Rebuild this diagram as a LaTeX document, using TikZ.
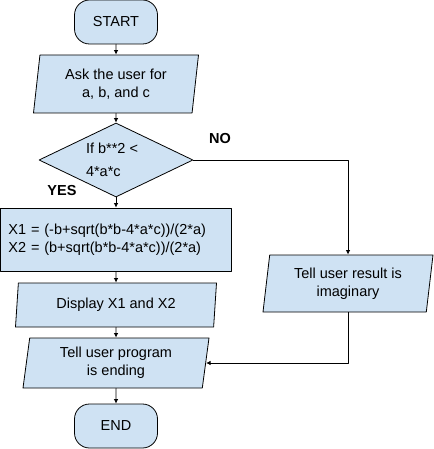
\documentclass[tikz,border=0pt]{standalone}
\usepackage{fontspec}
\setmainfont{Liberation Sans}
\usepackage{xcolor}
\usepackage{tikz}
\usetikzlibrary{shapes.geometric,arrows.meta}
\definecolor{boxfill}{HTML}{CFE2F3}
\definecolor{edge}{HTML}{000000}
\tikzset{
  FlowNode/.style={
    draw=edge, line width=0.8pt, fill=boxfill,
    inner sep=0pt, align=center,
    font=\fontsize{14.5}{18}\selectfont
  },
  TermBox/.style={FlowNode, rectangle, rounded corners=15pt,
    minimum width=83pt, minimum height=44pt},
  IoBox/.style={FlowNode, trapezium, trapezium left angle=78,
    trapezium right angle=102, trapezium stretches body},
  DecBox/.style={FlowNode, diamond, shape aspect=2.08,
    minimum width=154pt, minimum height=74pt, align=left,
    font=\fontsize{14.5}{23}\selectfont},
  ProcBox/.style={FlowNode, rectangle, align=left,
    text width=215pt, inner xsep=8pt, minimum height=63pt},
  FlowArrow/.style={draw=edge, line width=0.8pt,
    -{Latex[length=4.5pt,width=4.5pt]}},
  BranchLabel/.style={font=\fontsize{14.5}{18}\selectfont\bfseries}
}

\begin{document}
\begin{tikzpicture}[x=1pt, y=-1pt, line cap=round, line join=round]
  \useasboundingbox (0,0) rectangle (433,449);

  \node[TermBox] (start) at (116,22) {START};
  \node[IoBox, minimum width=165pt, minimum height=58pt] (ask) at (116,84)
    {Ask the user for\\a, b, and c};
  \node[DecBox] (cond) at (116,160) {If b**2 <\hspace*{8pt}\\4*a*c};
  \node[ProcBox] (calc) at (116,239.5)
    {X1 = (-b+sqrt(b*b-4*a*c))/(2*a)\\X2 = (b+sqrt(b*b-4*a*c))/(2*a)};
  \node[IoBox, minimum width=201pt, minimum height=44pt] (show) at (116,305)
    {Display X1 and X2};
  \node[IoBox, minimum width=186pt, minimum height=50pt] (bye) at (116,363)
    {Tell user program\\is ending};
  \node[TermBox] (finish) at (116,426) {END};
  \node[IoBox, minimum width=170pt, minimum height=57pt] (imag) at (348,283.5)
    {Tell user result is\\imaginary};

  % branch labels
  \node[BranchLabel] (no) at (220,139) {NO};
  \node[BranchLabel] (yes) at (62,191) {YES};

  % main column
  \draw[FlowArrow] (start.south) -- (ask.north);
  \draw[FlowArrow] (ask.south) -- (cond.north);
  \draw[FlowArrow] (cond.south) -- (calc.north);
  \draw[FlowArrow] (calc.south) -- (show.north);
  \draw[FlowArrow] (show.south) -- (bye.north);
  \draw[FlowArrow] (bye.south) -- (finish.north);

  % NO branch
  \draw[FlowArrow] (cond.east) -| (imag.north);
  \draw[FlowArrow] (imag.south) |- (bye.east);
\end{tikzpicture}
\end{document}
